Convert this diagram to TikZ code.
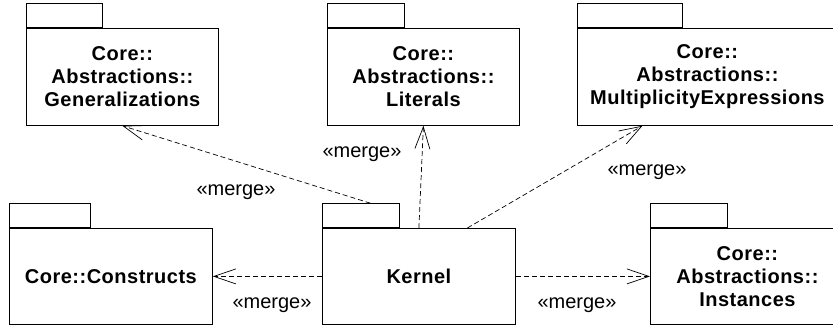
\documentclass[tikz,border=0pt]{standalone}
\usepackage{fontspec}
\setmainfont{Liberation Sans}
\newfontfamily\pkgfont[LetterSpace=2.5]{Liberation Sans}
\usetikzlibrary{arrows.meta}
\tikzset{
  pkg/.style={draw, line width=0.8pt, rectangle, anchor=north west, inner sep=0pt,
    align=center, font=\pkgfont\fontsize{20}{23}\selectfont\bfseries},
  pkgtab/.style={draw, line width=0.8pt, rectangle, anchor=south west, inner sep=0pt,
    minimum height=24pt},
  mergeline/.style={line width=0.7pt, dash pattern=on 5pt off 3pt,
    -{Straight Barb[length=22pt,width=15pt,line width=0.7pt]}},
  lbl/.style={inner sep=0pt, font=\fontsize{20}{23}\selectfont}
}
\begin{document}
\begin{tikzpicture}[x=1pt,y=-1pt]
\useasboundingbox (0,0) rectangle (833,326);
\clip (0,0) rectangle (833,326);
% top row
\node[pkg, minimum width=192pt, minimum height=97pt] (gen) at (26,28) {Core::\\Abstractions::\\Generalizations};
\node[pkgtab, minimum width=76pt] (gentab) at (gen.north west) {};
\node[pkg, minimum width=192pt, minimum height=97pt] (lit) at (327,28) {Core::\\Abstractions::\\Literals};
\node[pkgtab, minimum width=77pt] (littab) at (lit.north west) {};
\node[pkg, minimum width=260pt, minimum height=97pt] (mult) at (577,28) {Core::\\Abstractions::\\MultiplicityExpressions};
\node[pkgtab, minimum width=105pt] (multtab) at (mult.north west) {};
% bottom row
\node[pkg, minimum width=203pt, minimum height=96pt] (cons) at (9,228) {Core::Constructs};
\node[pkgtab, minimum width=81pt] (constab) at (cons.north west) {};
\node[pkg, minimum width=193pt, minimum height=96pt] (kern) at (322,228) {Kernel};
\node[pkgtab, minimum width=77pt] (kerntab) at (kern.north west) {};
\node[pkg, minimum width=194pt, minimum height=96pt] (inst) at (650,228) {Core::\\Abstractions::\\Instances};
\node[pkgtab, minimum width=77pt] (insttab) at (inst.north west) {};
% connectors
\draw[mergeline] ([xshift=9.5pt]kerntab.north) -- (gen.south);
\draw[mergeline] (kern.north) -- (lit.south);
\draw[mergeline] ([xshift=48.5pt]kern.north) -- ([xshift=-65pt]mult.south);
\draw[mergeline] (kern.west) -- (cons.east);
\draw[mergeline] (kern.east) -- (inst.west);
% labels
\node[lbl] (m1) at (236,192) {«merge»};
\node[lbl] (m2) at (362,154) {«merge»};
\node[lbl] (m3) at (647,172) {«merge»};
\node[lbl] (m4) at (272,305) {«merge»};
\node[lbl] (m5) at (577,305) {«merge»};
\end{tikzpicture}
\end{document}
